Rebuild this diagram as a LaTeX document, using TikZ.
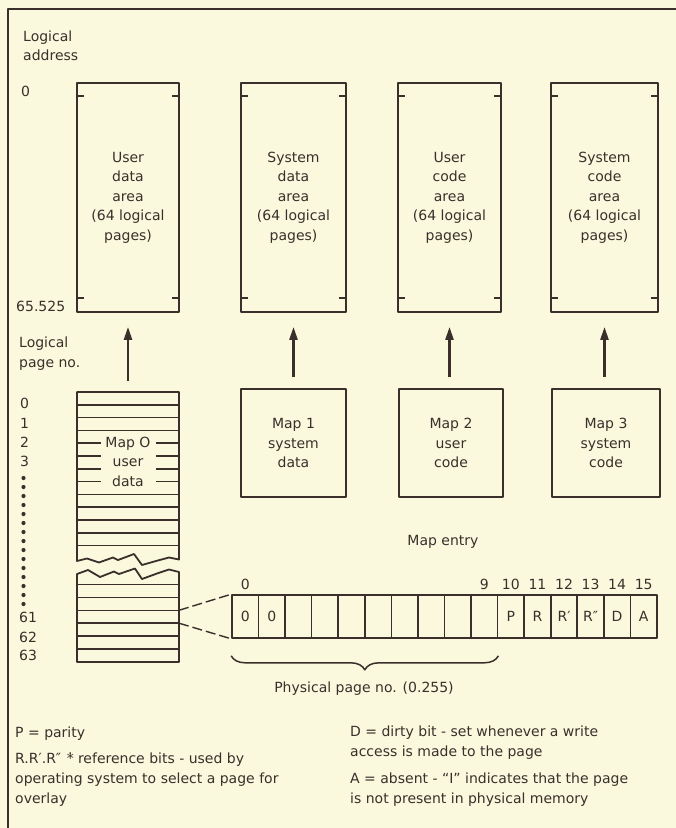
\documentclass[tikz,border=0pt]{standalone}
\usepackage{fontspec}
\setmainfont{DejaVu Sans}
\usetikzlibrary{arrows.meta,decorations.pathreplacing}
\definecolor{paper}{RGB}{250,249,222}
\definecolor{ink}{RGB}{58,47,42}
\begin{document}
\begin{tikzpicture}[x=1pt,y=-1pt,line join=round,
  every node/.style={text=ink,font=\fontsize{14}{19.5}\selectfont},
  area/.style={draw=ink,line width=1.8pt,minimum height=229pt,inner sep=0pt,align=center},
  mapbox/.style={draw=ink,line width=1.8pt,minimum height=108pt,inner sep=0pt,align=center},
  bitcell/.style={draw=ink,line width=1.6pt,minimum width=26.56pt,minimum height=43pt,inner sep=0pt},
  lbl/.style={anchor=base west,inner sep=0pt},
  lift/.style={draw=ink,line width=2.4pt,-{Triangle[length=13pt,width=8pt]},shorten <=11pt,shorten >=14pt},
  rule/.style={draw=ink,line width=1.5pt},
  edge/.style={draw=ink,line width=1.8pt},
  tie/.style={draw=ink,line width=1.4pt,dash pattern=on 10pt off 4pt}]

\useasboundingbox (0,0) rectangle (676,828);
\fill[paper] (0,0) rectangle (676,828);

% outer frame (left and top rules)
\draw[ink,line width=2pt] (8,828) -- (8,9) -- (676,9);

% logical address spaces
\node[area,minimum width=102pt] (a0) at (128,197.5) {User\\data\\area\\(64 logical\\pages)};
\node[area,minimum width=105pt] (a1) at (293.5,197.5) {System\\data\\area\\(64 logical\\pages)};
\node[area,minimum width=103pt] (a2) at (449.5,197.5) {User\\code\\area\\(64 logical\\pages)};
\node[area,minimum width=107pt] (a3) at (604.5,197.5) {System\\code\\area\\(64 logical\\pages)};
\foreach \a in {a0,a1,a2,a3}{
  \draw[rule] ([yshift=-14pt]\a.north west) -- ++(8,0);
  \draw[rule] ([yshift=-14pt]\a.north east) -- ++(-8,0);
  \draw[rule] ([yshift=15pt]\a.south west) -- ++(8,0);
  \draw[rule] ([yshift=15pt]\a.south east) -- ++(-8,0);
}

\node[lbl] (la) at (23,41.5) {Logical};
\node[lbl] (lb) at (23,60.5) {address};
\node[lbl] (lz) at (21,96) {0};
\node[lbl] (le) at (16,311) {65.525};
\node[lbl] (pa) at (19,347.5) {Logical};
\node[lbl] (pb) at (19,367.5) {page no.};

% maps 1-3
\node[mapbox,minimum width=105pt] (m1) at (293.5,443) {Map 1\\system\\data};
\node[mapbox,minimum width=104pt] (m2) at (451,443) {Map 2\\user\\code};
\node[mapbox,minimum width=108pt] (m3) at (606,443) {Map 3\\system\\code};

% map 0: stack of entries, broken in the middle
\coordinate (s0) at (128,392);
\draw[edge] (77,561) -- (77,392) -- (179,392) -- (179,559.5) -- (169,557.5) -- (156,561)
  -- (142,565) -- (134,554) -- (118,560) -- (113,557.5) -- (99,562.5) -- (87,558.5) -- cycle;
\foreach \k in {1,...,12}
  \draw[rule] (77,{392+12.8*\k}) -- (179,{392+12.8*\k});
\draw[edge] (77,574) -- (77,662) -- (179,662) -- (179,572) -- (169,569.5) -- (157,573.5)
  -- (142,579) -- (135,568.5) -- (119,574) -- (114,571.5) -- (100,577) -- (88,570) -- cycle;
\foreach \k in {0,...,5}
  \draw[rule] (77,{584.5+12.9*\k}) -- (179,{584.5+12.9*\k});
\coordinate (r61a) at (179,610.3);
\coordinate (r61b) at (179,623.2);
\node[fill=paper,minimum width=55pt,minimum height=54pt,inner sep=0pt,align=center] (m0) at (128,461.5) {Map O\\user\\data};

% logical page numbers
\node[lbl] (p0) at (20,408) {0};
\node[lbl] (p1) at (20,428) {1};
\node[lbl] (p2) at (20,447) {2};
\node[lbl] (p3) at (20,466) {3};
\foreach \k in {0,...,14}
  \fill[ink] (23.5,{478+9*\k}) circle (2.1pt);
\node[lbl] (p61) at (19,622) {61};
\node[lbl] (p62) at (19,642) {62};
\node[lbl] (p63) at (19,660) {63};

% arrows from maps to areas
\draw[lift] (s0) -- (a0.south);
\draw[lift] (m1.north) -- (a1.south);
\draw[lift] (a2.south |- m2.north) -- (a2.south);
\draw[lift] (a3.south |- m3.north) -- (a3.south);

% map entry word
\node (me) at (443,542) {Map entry};
\foreach \k/\t in {0/0,1/0,2/{},3/{},4/{},5/{},6/{},7/{},8/{},9/{},10/P,11/R,12/R′,13/R″,14/D,15/A}
  \node[bitcell] (c\k) at ({232+26.56*(\k+0.5)},616.5) {\t};
\foreach \k in {0,9,10,11,12,13,14,15}
  \path (c\k.north) ++(0,-5) node[anchor=base] (n\k) {\k};

\draw[tie] (r61a) -- (c0.north west);
\draw[tie] (r61b) -- (c0.south west);

\draw[ink,line width=1.5pt,decorate,decoration={brace,mirror,amplitude=14pt}]
  ([yshift=-17pt]c0.south west) -- ([yshift=-17pt]c9.south east);
\node (ppn) at (364,689) {Physical page no. (0.255)};

% legend
\node[lbl] (k1) at (15,737.5) {P = parity};
\node[lbl] (k2) at (15,763.5) {R.R′.R″\hspace{0.4em}*̇\hspace{0.3em}reference bits - used by};
\node[lbl] (k3) at (15,783.5) {operating system to select a page for};
\node[lbl] (k4) at (15,803.5) {overlay};
\node[lbl] (k5) at (350,736.5) {D = dirty bit - set whenever a write};
\node[lbl] (k6) at (350,756.5) {access is made to the page};
\node[lbl] (k7) at (350,783.5) {A = absent - “I” indicates that the page};
\node[lbl] (k8) at (350,803.5) {is not present in physical memory};
\end{tikzpicture}
\end{document}
